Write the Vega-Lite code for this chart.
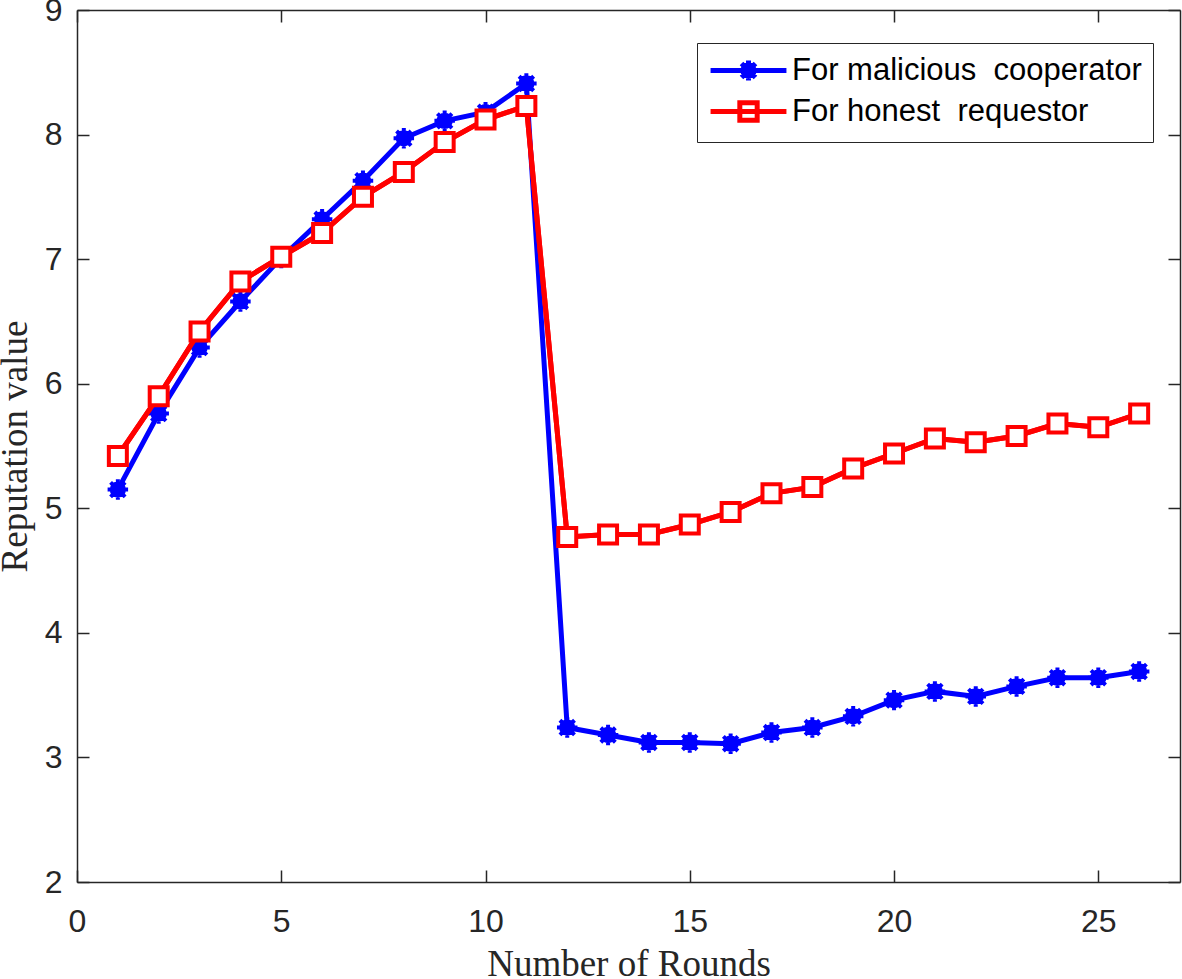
{
  "$schema": "https://vega.github.io/schema/vega-lite/v6.json",
  "width": 1103,
  "height": 872,
  "autosize": {"type": "none"},
  "padding": {"left": 77, "top": 10, "right": 2, "bottom": 97},
  "background": "white",
  "config": {
    "view": {"stroke": null},
    "axis": {
      "grid": false,
      "labelFlush": false,
      "labelOverlap": false,
      "domainColor": "#262626",
      "domainWidth": 1.5,
      "tickColor": "#262626",
      "tickWidth": 1.5,
      "tickSize": -12,
      "labelFont": "Liberation Sans",
      "labelFontSize": 32,
      "labelColor": "#262626",
      "titleFont": "Liberation Serif",
      "titleFontSize": 37,
      "titleFontWeight": "normal",
      "titleColor": "#262626"
    }
  },
  "data": {
    "values": [
      {"round": 1, "series": "For malicious\u00a0 cooperator", "value": 5.15},
      {"round": 2, "series": "For malicious\u00a0 cooperator", "value": 5.76},
      {"round": 3, "series": "For malicious\u00a0 cooperator", "value": 6.29},
      {"round": 4, "series": "For malicious\u00a0 cooperator", "value": 6.66},
      {"round": 5, "series": "For malicious\u00a0 cooperator", "value": 7.01},
      {"round": 6, "series": "For malicious\u00a0 cooperator", "value": 7.32},
      {"round": 7, "series": "For malicious\u00a0 cooperator", "value": 7.63},
      {"round": 8, "series": "For malicious\u00a0 cooperator", "value": 7.97},
      {"round": 9, "series": "For malicious\u00a0 cooperator", "value": 8.11},
      {"round": 10, "series": "For malicious\u00a0 cooperator", "value": 8.18},
      {"round": 11, "series": "For malicious\u00a0 cooperator", "value": 8.41},
      {"round": 12, "series": "For malicious\u00a0 cooperator", "value": 3.24},
      {"round": 13, "series": "For malicious\u00a0 cooperator", "value": 3.18},
      {"round": 14, "series": "For malicious\u00a0 cooperator", "value": 3.12},
      {"round": 15, "series": "For malicious\u00a0 cooperator", "value": 3.12},
      {"round": 16, "series": "For malicious\u00a0 cooperator", "value": 3.11},
      {"round": 17, "series": "For malicious\u00a0 cooperator", "value": 3.2},
      {"round": 18, "series": "For malicious\u00a0 cooperator", "value": 3.24},
      {"round": 19, "series": "For malicious\u00a0 cooperator", "value": 3.33},
      {"round": 20, "series": "For malicious\u00a0 cooperator", "value": 3.46},
      {"round": 21, "series": "For malicious\u00a0 cooperator", "value": 3.53},
      {"round": 22, "series": "For malicious\u00a0 cooperator", "value": 3.49},
      {"round": 23, "series": "For malicious\u00a0 cooperator", "value": 3.57},
      {"round": 24, "series": "For malicious\u00a0 cooperator", "value": 3.64},
      {"round": 25, "series": "For malicious\u00a0 cooperator", "value": 3.64},
      {"round": 26, "series": "For malicious\u00a0 cooperator", "value": 3.69},
      {"round": 1, "series": "For honest\u00a0 requestor", "value": 5.42},
      {"round": 2, "series": "For honest\u00a0 requestor", "value": 5.9},
      {"round": 3, "series": "For honest\u00a0 requestor", "value": 6.42},
      {"round": 4, "series": "For honest\u00a0 requestor", "value": 6.82},
      {"round": 5, "series": "For honest\u00a0 requestor", "value": 7.02},
      {"round": 6, "series": "For honest\u00a0 requestor", "value": 7.21},
      {"round": 7, "series": "For honest\u00a0 requestor", "value": 7.5},
      {"round": 8, "series": "For honest\u00a0 requestor", "value": 7.7},
      {"round": 9, "series": "For honest\u00a0 requestor", "value": 7.94},
      {"round": 10, "series": "For honest\u00a0 requestor", "value": 8.12},
      {"round": 11, "series": "For honest\u00a0 requestor", "value": 8.23},
      {"round": 12, "series": "For honest\u00a0 requestor", "value": 4.77},
      {"round": 13, "series": "For honest\u00a0 requestor", "value": 4.79},
      {"round": 14, "series": "For honest\u00a0 requestor", "value": 4.79},
      {"round": 15, "series": "For honest\u00a0 requestor", "value": 4.87},
      {"round": 16, "series": "For honest\u00a0 requestor", "value": 4.97},
      {"round": 17, "series": "For honest\u00a0 requestor", "value": 5.12},
      {"round": 18, "series": "For honest\u00a0 requestor", "value": 5.17},
      {"round": 19, "series": "For honest\u00a0 requestor", "value": 5.32},
      {"round": 20, "series": "For honest\u00a0 requestor", "value": 5.44},
      {"round": 21, "series": "For honest\u00a0 requestor", "value": 5.56},
      {"round": 22, "series": "For honest\u00a0 requestor", "value": 5.53},
      {"round": 23, "series": "For honest\u00a0 requestor", "value": 5.58},
      {"round": 24, "series": "For honest\u00a0 requestor", "value": 5.68},
      {"round": 25, "series": "For honest\u00a0 requestor", "value": 5.65},
      {"round": 26, "series": "For honest\u00a0 requestor", "value": 5.76}
    ]
  },
  "resolve": {"axis": {"x": "independent", "y": "independent"}},
  "layer": [
    {
      "mark": {"type": "line", "strokeWidth": 5},
      "encoding": {
        "x": {
          "field": "round", "type": "quantitative",
          "scale": {"domain": [0, 27], "nice": false, "zero": false},
          "axis": {"orient": "bottom", "values": [0, 5, 10, 15, 20, 25], "labelPadding": 36, "title": "Number of Rounds", "titlePadding": 9}
        },
        "y": {
          "field": "value", "type": "quantitative",
          "scale": {"domain": [2, 9], "nice": false, "zero": false},
          "axis": {"orient": "left", "values": [2, 3, 4, 5, 6, 7, 8, 9], "labelPadding": 27, "title": "Reputation value", "titlePadding": 10}
        },
        "color": {
          "field": "series", "type": "nominal",
          "scale": {"domain": ["For malicious\u00a0 cooperator", "For honest\u00a0 requestor"], "range": ["#0000FF", "#FF0000"]},
          "legend": {
            "title": null,
            "orient": "none",
            "legendX": 620,
            "legendY": 33,
            "padding": 11,
            "strokeColor": "#262626",
            "fillColor": "white",
            "labelFont": "Liberation Sans",
            "labelFontSize": 31,
            "labelColor": "black",
            "labelLimit": 0,
            "symbolSize": 784,
            "symbolStrokeWidth": 5,
            "symbolOffset": 24,
            "labelOffset": 27,
            "rowPadding": 1,
            "encode": {
              "symbols": {
                "update": {
                  "shape": {"signal": "datum.index === 0 ? 'M-2.71,0L2.71,0M-0.71,0L0.71,0M0,-0.71L0,0.71M-0.5,-0.5L0.5,0.5M-0.5,0.5L0.5,-0.5M0.4,0A0.4,0.4 0 1,1 -0.4,0A0.4,0.4 0 1,1 0.4,0Z' : 'M-2.71,0L2.71,0M-0.62,-0.62L0.62,-0.62L0.62,0.62L-0.62,0.62Z'"},
                  "fill": {"signal": "datum.index === 0 ? '#0000FF' : 'white'"},
                  "strokeWidth": {"value": 5}
                }
              }
            }
          }
        },
        "detail": {"field": "series"}
      }
    },
    {
      "transform": [{"filter": "datum.series === 'For malicious\u00a0 cooperator'"}],
      "mark": {"type": "point", "shape": "M-1,0L1,0M0,-1L0,1M-0.71,-0.71L0.71,0.71M-0.71,0.71L0.71,-0.71M0.6,0A0.6,0.6 0 1,1 -0.6,0A0.6,0.6 0 1,1 0.6,0Z", "size": 420, "filled": true, "fill": "#0000FF", "fillOpacity": 1, "stroke": "#0000FF", "strokeWidth": 4, "opacity": 1},
      "encoding": {
        "x": {"field": "round", "type": "quantitative", "axis": {"orient": "top", "values": [0, 5, 10, 15, 20, 25], "labels": false, "title": null}},
        "y": {"field": "value", "type": "quantitative", "axis": {"orient": "right", "values": [2, 3, 4, 5, 6, 7, 8, 9], "labels": false, "title": null}}
      }
    },
    {
      "transform": [{"filter": "datum.series === 'For honest\u00a0 requestor'"}],
      "mark": {"type": "line", "strokeWidth": 5, "color": "#FF0000"},
      "encoding": {
        "x": {"field": "round", "type": "quantitative", "axis": null},
        "y": {"field": "value", "type": "quantitative", "axis": null}
      }
    },
    {
      "transform": [{"filter": "datum.series === 'For honest\u00a0 requestor'"}],
      "mark": {"type": "point", "shape": "square", "size": 324, "filled": false, "fill": "white", "fillOpacity": 1, "stroke": "#FF0000", "strokeWidth": 4, "opacity": 1},
      "encoding": {
        "x": {"field": "round", "type": "quantitative", "axis": null},
        "y": {"field": "value", "type": "quantitative", "axis": null}
      }
    }
  ]
}
